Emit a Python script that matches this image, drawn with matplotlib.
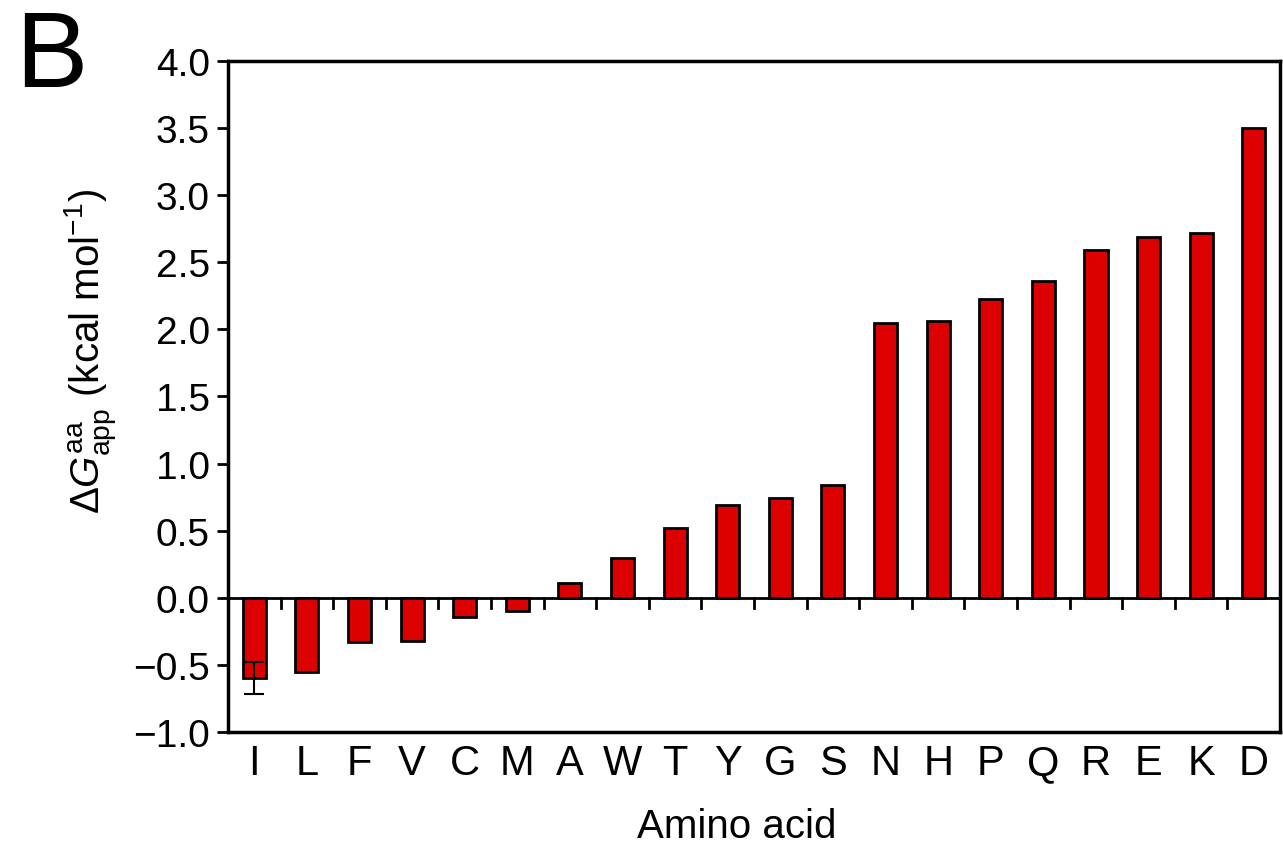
import numpy as np
import matplotlib
matplotlib.use("Agg")
import matplotlib.pyplot as plt

# Données
amino_acids = ["I", "L", "F", "V", "C", "M", "A", "W", "T", "Y",
               "G", "S", "N", "H", "P", "Q", "R", "E", "K", "D"]
dg_app = [-0.60, -0.55, -0.33, -0.32, -0.14, -0.10, 0.11, 0.30, 0.52, 0.69,
          0.74, 0.84, 2.05, 2.06, 2.23, 2.36, 2.59, 2.69, 2.72, 3.50]
dg_err = [0.12] + [0.0] * 19
y_ticks = [-1.0, -0.5, 0.0, 0.5, 1.0, 1.5, 2.0, 2.5, 3.0, 3.5, 4.0]

plt.rcParams["font.family"] = ["Liberation Sans", "DejaVu Sans"]
plt.rcParams["mathtext.fontset"] = "custom"
plt.rcParams["mathtext.rm"] = "Liberation Sans"
plt.rcParams["mathtext.it"] = "Liberation Sans:italic"

fig = plt.figure(figsize=(12.83, 8.53), dpi=100)
ax = fig.add_axes([0.1777, 0.1407, 0.82, 0.7866])

x = np.arange(len(amino_acids))
ax.bar(x, dg_app, width=0.44, color="#DD0000", edgecolor="black",
       linewidth=2, zorder=2)
# barre d'erreur uniquement pour I
ax.errorbar(x[:1], dg_app[:1], yerr=dg_err[:1], fmt="none", ecolor="black",
            elinewidth=1.5, capsize=7, capthick=1.5, zorder=3)

ax.axhline(0, color="black", linewidth=2, zorder=4)
# petits traits entre les barres sur la ligne zéro
for xi in x[:-1] + 0.5:
    ax.plot([xi, xi], [0, -0.075], color="black", linewidth=2, zorder=4)

ax.set_xlim(-0.5, 19.5)
ax.set_ylim(-1.0, 4.0)
ax.set_yticks(y_ticks)
ax.set_yticklabels([f"{v:.1f}".replace("-", "\u2212") for v in y_ticks])
ax.set_xticks(x)
ax.set_xticklabels(amino_acids)
ax.tick_params(axis="x", length=0, labelsize=30, pad=8)
ax.tick_params(axis="y", direction="out", length=8, width=2, labelsize=28, pad=5)

for s in ax.spines.values():
    s.set_linewidth(2.5)

ax.set_xlabel("Amino acid", fontsize=29)
ax.xaxis.set_label_coords(0.484, -0.112)
ax.set_ylabel(r"$\Delta G^{\rm aa}_{\rm app}$ (kcal mol$^{-1}$)", fontsize=29)
ax.yaxis.set_label_coords(-0.104, 0.569)

fig.text(0.012, 0.99, "B", fontsize=78, va="top", ha="left")

fig.savefig("out.png", dpi=100)
